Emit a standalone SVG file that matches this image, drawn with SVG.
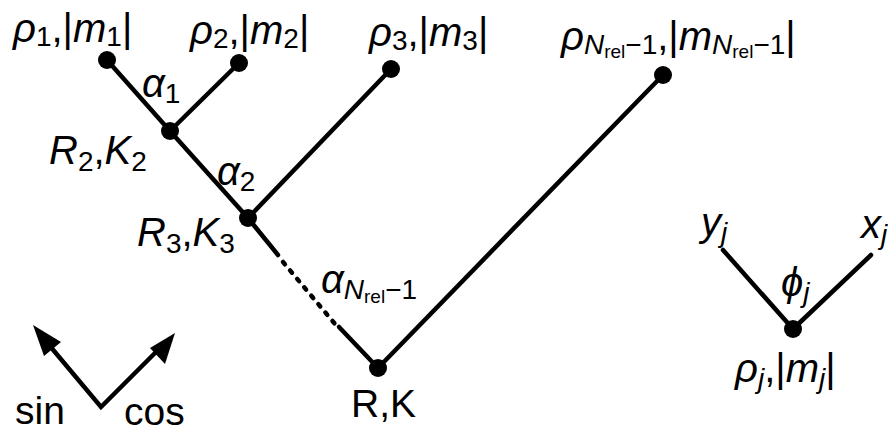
<svg xmlns="http://www.w3.org/2000/svg" width="888" height="433" viewBox="0 0 888 433">
<defs>
<style>
.t{font-family:"Liberation Sans",Arial,sans-serif;font-size:40px;fill:#000}
.i{font-style:italic}
.s{font-size:28px}
.ss{font-size:19px}
.u{font-size:39px}
.ln{stroke:#000;stroke-width:4.5;fill:none;stroke-linecap:round}
.dot{fill:#000}
</style>
</defs>
<rect width="888" height="433" fill="#fff"/>
<g id="connectors">
<line class="ln" x1="107" y1="60" x2="170" y2="131"/>
<line class="ln" x1="239" y1="63" x2="170" y2="131"/>
<line class="ln" x1="170" y1="131" x2="248" y2="218"/>
<line class="ln" x1="391" y1="69" x2="248" y2="218"/>
<line class="ln" x1="248" y1="218" x2="278" y2="255"/>
<line class="ln" x1="283" y1="262" x2="335" y2="324" stroke-dasharray="3 8" stroke-linecap="butt"/>
<line class="ln" x1="339" y1="327" x2="378" y2="368"/>
<line class="ln" x1="663" y1="75" x2="378" y2="368"/>
<line class="ln" x1="723" y1="250" x2="793" y2="329"/>
<line class="ln" x1="871" y1="255" x2="793" y2="329"/>
</g>
<g id="axes">
<polyline class="ln" points="44,339 101,407 163,345" stroke-linecap="butt" stroke-linejoin="miter"/>
<path d="M33,325 L61,342 L44,356 Z" fill="#000"/>
<path d="M175,333 L165,364 L150,348 Z" fill="#000"/>
<text class="t u" x="15" y="424">sin</text>
<text class="t u" x="124" y="425">cos</text>
</g>
<g id="n1">
<circle class="dot" cx="107" cy="60" r="9"/>
<text class="t" x="13" y="42"><tspan class="i">ρ</tspan><tspan class="s" dy="4">1</tspan><tspan dy="-4">,|</tspan><tspan class="i">m</tspan><tspan class="s" dy="4">1</tspan><tspan dy="-4">|</tspan></text>
</g>
<g id="n2">
<circle class="dot" cx="239" cy="63" r="9"/>
<text class="t" x="190" y="44"><tspan class="i">ρ</tspan><tspan class="s" dy="4">2</tspan><tspan dy="-4">,|</tspan><tspan class="i">m</tspan><tspan class="s" dy="4">2</tspan><tspan dy="-4">|</tspan></text>
</g>
<g id="n3">
<circle class="dot" cx="391" cy="69" r="9"/>
<text class="t" x="369" y="46"><tspan class="i">ρ</tspan><tspan class="s" dy="4">3</tspan><tspan dy="-4">,|</tspan><tspan class="i">m</tspan><tspan class="s" dy="4">3</tspan><tspan dy="-4">|</tspan></text>
</g>
<g id="nN">
<circle class="dot" cx="663" cy="75" r="9"/>
<text class="t" x="561" y="50"><tspan class="i">ρ</tspan><tspan class="s i" dy="4">N</tspan><tspan class="ss" dy="4">rel</tspan><tspan class="s" dy="-4">−1</tspan><tspan dy="-4">,|</tspan><tspan class="i">m</tspan><tspan class="s i" dy="4">N</tspan><tspan class="ss" dy="4">rel</tspan><tspan class="s" dy="-4">−1</tspan><tspan dy="-4">|</tspan></text>
</g>
<g id="R2">
<circle class="dot" cx="170" cy="131" r="9"/>
<text class="t" x="49" y="164"><tspan class="i">R</tspan><tspan class="s" dy="7">2</tspan><tspan dy="-7">,</tspan><tspan class="i">K</tspan><tspan class="s" dy="7">2</tspan></text>
</g>
<g id="R3">
<circle class="dot" cx="248" cy="218" r="9"/>
<text class="t" x="137" y="246"><tspan class="i">R</tspan><tspan class="s" dy="7">3</tspan><tspan dy="-7">,</tspan><tspan class="i">K</tspan><tspan class="s" dy="7">3</tspan></text>
</g>
<g id="RK">
<circle class="dot" cx="378" cy="368" r="9"/>
<text class="t u" x="351" y="417">R,K</text>
</g>
<g id="angles">
<text class="t" x="142" y="97"><tspan class="i">α</tspan><tspan class="s" dy="6">1</tspan></text>
<text class="t" x="217" y="185"><tspan class="i">α</tspan><tspan class="s" dy="6">2</tspan></text>
<text class="t" x="321" y="293"><tspan class="i">α</tspan><tspan class="s i" dy="6">N</tspan><tspan class="ss" dy="4">rel</tspan><tspan class="s" dy="-4">−1</tspan></text>
</g>
<g id="nj">
<circle class="dot" cx="793" cy="329" r="9"/>
<text class="t" x="701" y="236"><tspan class="i">y</tspan><tspan class="s i" dy="6">j</tspan></text>
<text class="t" x="861" y="238"><tspan class="i">x</tspan><tspan class="s i" dy="6">j</tspan></text>
<text class="t" x="781" y="296"><tspan class="i">ϕ</tspan><tspan class="s i" dy="6">j</tspan></text>
<text class="t" x="735" y="382"><tspan class="i">ρ</tspan><tspan class="s i" dy="6">j</tspan><tspan dy="-6">,|</tspan><tspan class="i">m</tspan><tspan class="s i" dy="6">j</tspan><tspan dy="-6">|</tspan></text>
</g>
</svg>
